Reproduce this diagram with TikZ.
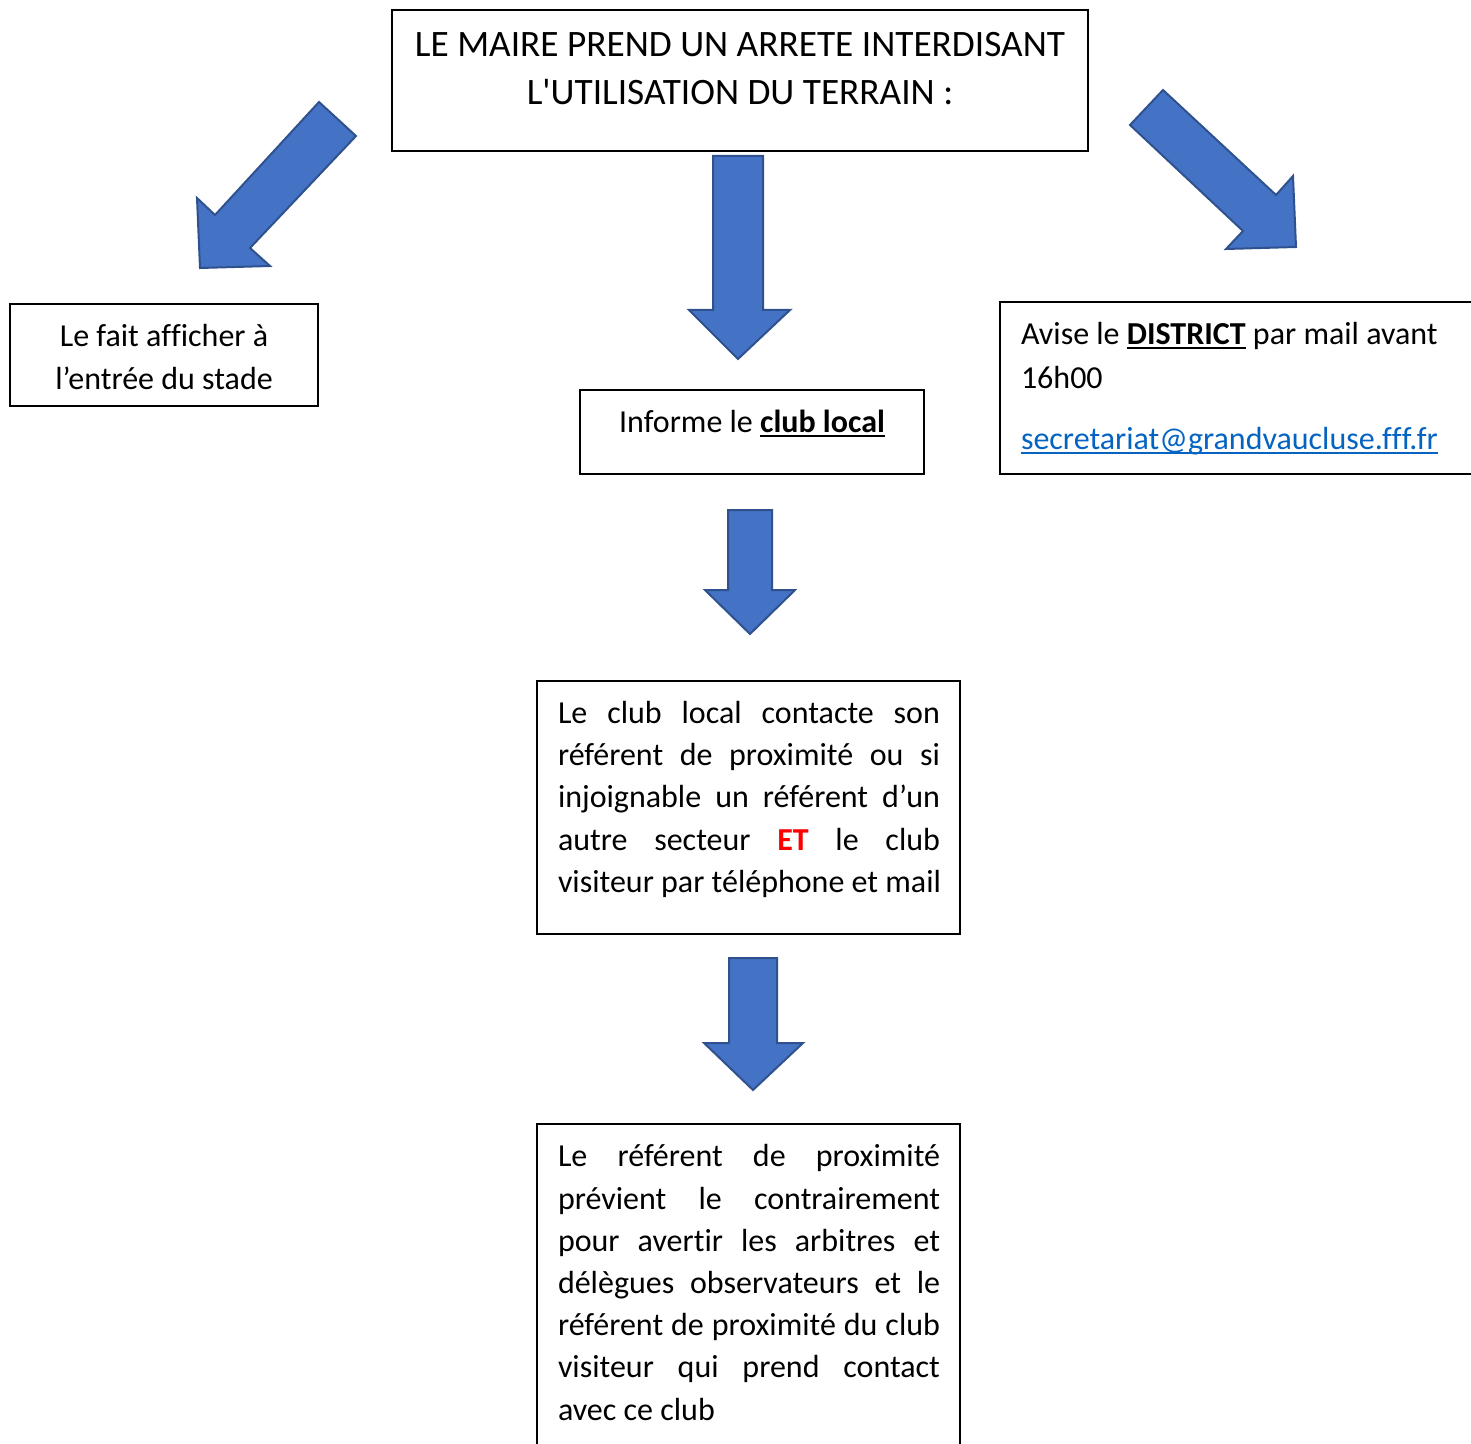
\documentclass[tikz,border=0pt]{standalone}
\usepackage{fontspec}
\setmainfont{Carlito}[Ligatures=NoCommon]
\usetikzlibrary{fit}
\definecolor{arrowfill}{HTML}{4472C4}
\definecolor{arrowline}{HTML}{2F528F}
\definecolor{linkblue}{HTML}{0563C1}
\definecolor{etred}{HTML}{FF0000}
\newsavebox\ulbox
\newcommand\myul[1]{\sbox\ulbox{#1}\rlap{\rule[-2.4pt]{\wd\ulbox}{1pt}}\usebox\ulbox}
\newcommand\sq{\XeTeXglyph\XeTeXcharglyph"27\relax}
\newcommand\nl{\kern0pt }
\tikzset{
  box/.style={draw=black, line width=1pt, inner sep=0pt},
  blockarrow/.style={fill=arrowfill, draw=arrowline, line width=1pt, line join=miter},
  txt/.style={inner sep=0pt, outer sep=0pt, font=\fontsize{16}{21}\selectfont},
  title/.style={inner sep=0pt, outer sep=0pt, font=\fontsize{18.65}{24}\selectfont}
}
\newcommand\jline[3]{\node[txt, anchor=base west] (#1) at #2 {\makebox[191pt][s]{#3}};}
\newcommand\fline[3]{\node[txt, anchor=base west] (#1) at #2 {#3};}
\begin{document}
\begin{tikzpicture}[x=0.5pt, y=-0.5pt]
\useasboundingbox (0,0) rectangle (1471,1444);
% boxes
\node[box, fit={(392,10) (1088,151)}] (topbox) {};
\node[box, fit={(10,304) (318,406)}] (leftbox) {};
\node[box, fit={(580,390) (924,474)}] (midbox) {};
\node[box, fit={(1000,302) (1480,474)}] (rightbox) {};
\node[box, fit={(537,681) (960,934)}] (box4) {};
\node[box, fit={(537,1124) (960,1460)}] (box5) {};
% block arrows
\draw[blockarrow] (319,102) -- (356,136) -- (250,248) -- (270,266) -- (200,268) -- (197,198) -- (215,215) -- cycle;
\draw[blockarrow] (1163,90) -- (1276,195) -- (1293,176) -- (1296,247) -- (1226,249) -- (1243,231) -- (1130,125) -- cycle;
\draw[blockarrow] (713,156) -- (763,156) -- (763,310) -- (790,310) -- (738,359) -- (689,310) -- (713,310) -- cycle;
\draw[blockarrow] (728,510) -- (772,510) -- (772,590) -- (795,590) -- (750,634) -- (705,590) -- (728,590) -- cycle;
\draw[blockarrow] (729,958) -- (777,958) -- (777,1043) -- (803,1043) -- (753,1090) -- (704,1043) -- (729,1043) -- cycle;
% title
\node[title, anchor=base] (t1) at (740,57) {LE MAIRE PREND UN ARRETE INTERDISANT};
\node[title, anchor=base] (t2) at (740,105) {L\sq UTILISATION DU TERRAIN :};
% left box
\node[txt, anchor=base] (lb1) at (164,347) {Le fait af\nl f\nl icher à};
\node[txt, anchor=base] (lb2) at (164,389) {l’entrée du stade};
% middle
\node[txt, anchor=base] (mb1) at (752,432) {Informe le \textbf{\myul{club local}}};
% right
\fline{rb1}{(1021,344)}{Avise le \textbf{\myul{DISTRICT}} par mail avant}
\fline{rb2}{(1021,388)}{16h00}
\fline{rb3}{(1021,449)}{\color{linkblue}\myul{secretariat@grandvaucluse.f\nl f\nl f.fr}}
% box 4
\jline{b41}{(558,723)}{Le club local contacte son}
\jline{b42}{(558,765)}{référent de proximité ou si}
\jline{b43}{(558,807)}{injoignable un référent d’un}
\jline{b44}{(558,850)}{autre secteur \textcolor{etred}{\textbf{ET}} le club}
\fline{b45}{(558,892)}{visiteur par téléphone et mail}
% box 5
\jline{b51}{(558,1166)}{Le référent de proximité}
\jline{b52}{(558,1209)}{prévient le contrairement}
\jline{b53}{(558,1251)}{pour avertir les arbitres et}
\jline{b54}{(558,1293)}{délègues observateurs et le}
\jline{b55}{(558,1335)}{référent de proximité du club}
\jline{b56}{(558,1377)}{visiteur qui prend contact}
\fline{b57}{(558,1420)}{avec ce club}
\end{tikzpicture}
\end{document}
